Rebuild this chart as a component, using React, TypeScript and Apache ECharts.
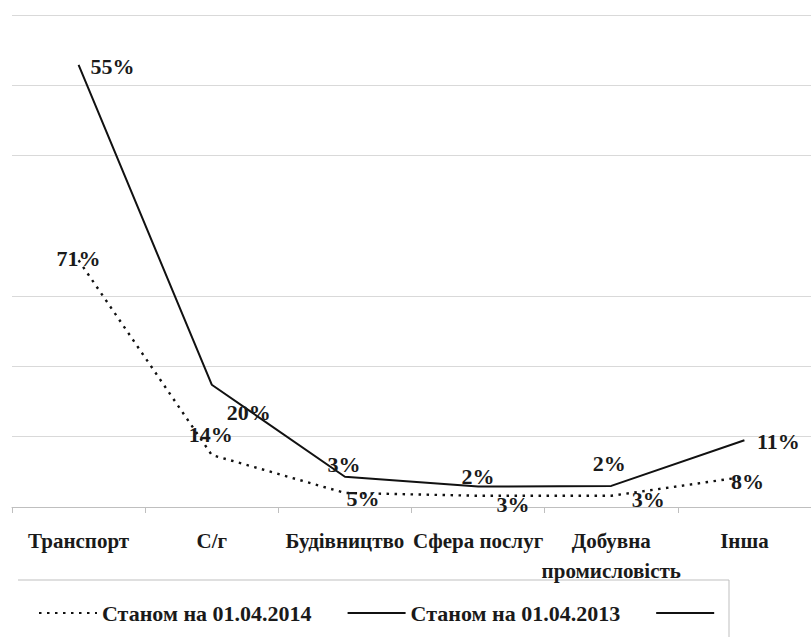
import React, { useEffect, useRef } from "react";
import * as echarts from "echarts";

const categories = [
  "Транспорт",
  "С/г",
  "Будівництво",
  "Сфера послуг",
  "Добувна\nпромисловість",
  "Інша",
];
const series2014Name = "Станом на 01.04.2014";
const series2013Name = "Станом на 01.04.2013";
const series3Name = "ряд3";

// plotted values
const values2014 = [35.1, 7.4, 2.0, 1.6, 1.6, 4.3];
const values2013 = [62.9, 17.4, 4.3, 2.9, 3.0, 9.5];

// data-label texts as printed in the picture
const labels2014 = ["71%", "14%", "5%", "3%", "3%", "8%"];
const labels2013 = ["55%", "20%", "3%", "2%", "2%", "11%"];

// label offsets (styling only)
const offsets2014 = [[0, -2], [-1, -20], [18, 6], [35, 9], [37, 4], [3, 5]];
const offsets2013 = [[34, 2], [37, 28], [-1, -12], [0, -10], [-2, -22], [34, 1]];

const FONT = "'Liberation Serif', 'Times New Roman', 'DejaVu Serif', serif";
const TEXT = "#1a1a1a";

export default function App() {
  const ref = useRef<HTMLDivElement>(null);
  useEffect(() => {
    if (!ref.current) return;
    const chart = echarts.init(ref.current, null, { renderer: "svg" });
    const mkData = (vals: number[], offs: number[][]) =>
      vals.map((v, i) => ({
        value: v,
        label: { offset: offs[i] },
      }));
    const labelBase = {
      show: true,
      position: "inside",
      fontFamily: FONT,
      fontWeight: "bold",
      fontSize: 22,
      color: TEXT,
    };
    chart.setOption({
      animation: false,
      backgroundColor: "#ffffff",
      textStyle: { fontFamily: FONT },
      grid: { left: 12, top: 15, width: 810, height: 492 },
      xAxis: {
        type: "category",
        data: categories,
        boundaryGap: true,
        axisLine: { show: true, lineStyle: { color: "#bfbfbf", width: 1 } },
        axisTick: { show: true, length: 6, lineStyle: { color: "#bfbfbf" } },
        axisLabel: {
          interval: 0,
          margin: 19,
          fontFamily: FONT,
          fontWeight: "bold",
          fontSize: 21,
          lineHeight: 30,
          color: TEXT,
        },
        splitLine: { show: false },
      },
      yAxis: {
        type: "value",
        min: 0,
        max: 70,
        interval: 10,
        axisLabel: { show: false },
        axisLine: { show: false },
        axisTick: { show: false },
        splitLine: {
          show: true,
          lineStyle: {
            color: [
              "#d9d9d9",
              "#d9d9d9",
              "#d9d9d9",
              "#d9d9d9",
              "rgba(0,0,0,0)",
              "#d9d9d9",
              "#d9d9d9",
              "#d9d9d9",
            ],
            width: 1.2,
          },
        },
      },
      legend: {
        left: 38,
        top: 602,
        padding: 0,
        itemWidth: 58,
        itemHeight: 14,
        itemGap: 35,
        data: [series2014Name, series2013Name, series3Name],
        formatter: (name: string) => (name === series3Name ? "" : name),
        textStyle: {
          fontFamily: FONT,
          fontWeight: "bold",
          fontSize: 22,
          color: TEXT,
        },
      },
      graphic: [
        {
          type: "polyline",
          shape: { points: [[18, 580], [729, 580], [729, 640]] },
          style: { stroke: "#bfbfbf", lineWidth: 1, fill: "none" },
          silent: true,
        },
      ],
      series: [
        {
          name: series2014Name,
          type: "line",
          data: mkData(values2014, offsets2014),
          symbol: "circle",
          symbolSize: 2,
          itemStyle: { color: "rgba(0,0,0,0)", borderWidth: 0 },
          lineStyle: { color: "#111", width: 2.4, type: [2.5, 5.5] },
          label: {
            ...labelBase,
            formatter: (p: any) => labels2014[p.dataIndex],
          },
          z: 3,
        },
        {
          name: series2013Name,
          type: "line",
          data: mkData(values2013, offsets2013),
          symbol: "circle",
          symbolSize: 2,
          itemStyle: { color: "rgba(0,0,0,0)", borderWidth: 0 },
          lineStyle: { color: "#111", width: 2, type: "solid" },
          label: {
            ...labelBase,
            formatter: (p: any) => labels2013[p.dataIndex],
          },
          z: 3,
        },
        {
          name: series3Name,
          type: "line",
          data: [],
          symbol: "circle",
          symbolSize: 2,
          itemStyle: { color: "rgba(0,0,0,0)", borderWidth: 0 },
          lineStyle: { color: "#111", width: 2, type: "solid" },
        },
      ],
    });
    return () => chart.dispose();
  }, []);
  return (
    <div
      ref={ref}
      style={{
        position: "fixed",
        left: 0,
        top: 0,
        width: 811,
        height: 637,
        background: "#fff",
      }}
    />
  );
}
